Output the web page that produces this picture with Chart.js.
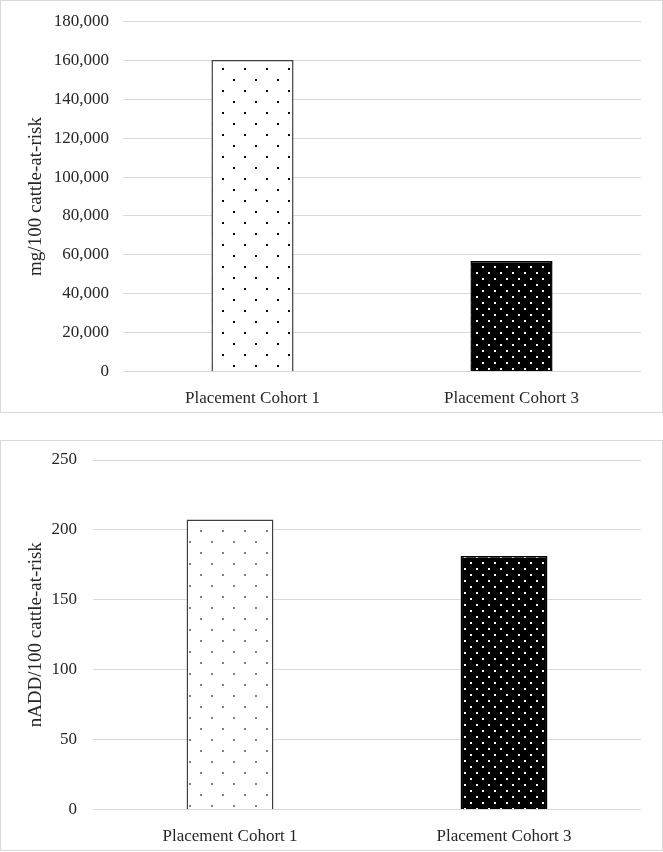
<!DOCTYPE html>
<html>
<head>
<meta charset="utf-8">
<script src="https://cdn.jsdelivr.net/npm/chart.js"></script>
<style>
  body { margin: 0; background: #fff; }
  .panel { position: absolute; left: 0; border: 1px solid #d9d9d9; background: #fff; }
  #p1 { top: 0; width: 661px; height: 411px; }
  #p2 { top: 440px; width: 661px; height: 409px; }
  canvas { display: block; }
</style>
</head>
<body>
<div class="panel" id="p1"><canvas id="mgChart" width="661" height="411"></canvas></div>
<div class="panel" id="p2"><canvas id="naddChart" width="661" height="409"></canvas></div>
<script>
// values
const categories = ['Placement Cohort 1', 'Placement Cohort 3'];
const mgValues = [160200, 56800];
const naddValues = [207.5, 181.3];
const mgTitle = 'mg/100 cattle-at-risk';
const naddTitle = 'nADD/100 cattle-at-risk';
const mgAxis = { min: 0, max: 180000, step: 20000 };
const naddAxis = { min: 0, max: 250, step: 50 };

const FAMILY = '"Liberation Serif", "Times New Roman", serif';
const FONT = { family: FAMILY, size: 17 };
const TITLE_FONT = { family: FAMILY, size: 19 };
const TEXT = '#262626';

// dotted fills like the excel pattern fills
function dots(size, bg, fg, dot) {
  const c = document.createElement('canvas');
  c.width = size; c.height = size;
  const g = c.getContext('2d');
  g.fillStyle = bg;
  g.fillRect(0, 0, size, size);
  g.fillStyle = fg;
  g.fillRect(1, 1, dot, dot);
  g.fillRect(1 + size / 2, 1 + size / 2, dot, dot);
  return g.createPattern(c, 'repeat');
}

function makeChart(id, values, title, ax, fills, borders, yWidth, tickPad, padTop) {
  return new Chart(document.getElementById(id), {
    type: 'bar',
    data: {
      labels: categories,
      datasets: [{
        data: values,
        backgroundColor: fills,
        borderColor: borders,
        borderWidth: 1.5,
        categoryPercentage: 1,
        barPercentage: 0.317
      }]
    },
    options: {
      responsive: false,
      animation: false,
      layout: { padding: { top: padTop, right: 21, bottom: 0, left: 0 } },
      plugins: { legend: { display: false }, tooltip: { enabled: false } },
      scales: {
        x: {
          grid: { display: false },
          border: { display: false },
          ticks: { color: TEXT, font: FONT, padding: 9, maxRotation: 0 },
          afterFit: s => { s.height = 40.5; }
        },
        y: {
          min: ax.min,
          max: ax.max,
          grid: { color: '#d9d9d9', lineWidth: 1, drawTicks: false },
          border: { display: false },
          ticks: {
            stepSize: ax.step,
            color: TEXT,
            font: FONT,
            padding: tickPad,
            callback: v => v.toLocaleString('en-US')
          },
          title: { display: true, text: title, color: TEXT, font: TITLE_FONT, padding: { top: 24, bottom: 0 } },
          afterFit: s => {
            s.width = yWidth;
            // keep tick padding from pushing the plot top down
            s.paddingTop = 0;
            s.paddingBottom = 0;
          }
        }
      }
    }
  });
}

makeChart('mgChart', mgValues, mgTitle, mgAxis,
  [dots(22, '#ffffff', '#000000', 2), dots(12, '#000000', '#ffffff', 2)],
  ['#404040', '#000000'], 122, 14, 20.5);

makeChart('naddChart', naddValues, naddTitle, naddAxis,
  [dots(22, '#ffffff', '#808080', 2), dots(12, '#000000', '#ffffff', 2)],
  ['#404040', '#000000'], 92, 16, 19);
</script>
</body>
</html>
